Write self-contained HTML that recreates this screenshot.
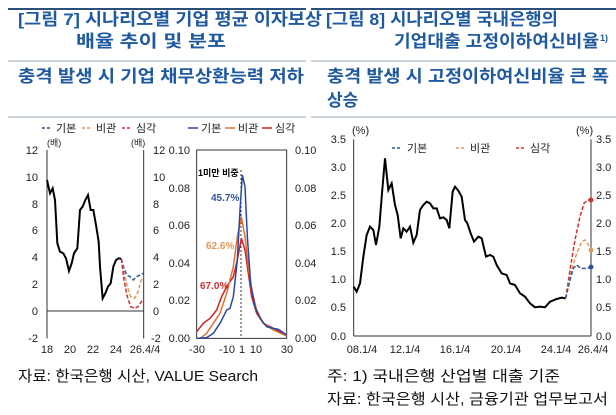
<!DOCTYPE html>
<html><head><meta charset="utf-8"><style>
body{margin:0;background:#fff;}
svg{display:block;font-family:"Liberation Sans","Noto Sans CJK KR",sans-serif;}
.t{fill:#1f5aa0;font-weight:bold;}
.ax{font-size:11px;fill:#222;}
</style></head><body>
<svg width="616" height="415" viewBox="0 0 616 415" xmlns="http://www.w3.org/2000/svg">
<rect width="616" height="415" fill="#fff"/>
<line x1="8" y1="9" x2="306" y2="9" stroke="#2a4f7a" stroke-width="2"/>
<line x1="311" y1="9" x2="616" y2="9" stroke="#2a4f7a" stroke-width="2"/>
<text class="t" x="18" y="25" font-size="17" textLength="304" lengthAdjust="spacingAndGlyphs">[그림 7] 시나리오별 기업 평균 이자보상</text>
<text class="t" x="76" y="47" font-size="17" textLength="150" lengthAdjust="spacingAndGlyphs">배율 추이 및 분포</text>
<text class="t" x="326" y="25" font-size="17" textLength="232" lengthAdjust="spacingAndGlyphs">[그림 8] 시나리오별 국내은행의</text>
<text class="t" x="394" y="47" font-size="17" textLength="205" lengthAdjust="spacingAndGlyphs">기업대출 고정이하여신비율</text>
<text class="t" x="600" y="41" font-size="9">1)</text>
<line x1="8" y1="61" x2="306" y2="61" stroke="#9ab" stroke-width="1"/>
<line x1="311" y1="61" x2="616" y2="61" stroke="#9ab" stroke-width="1"/>
<text class="t" x="18" y="82" font-size="17" textLength="286" lengthAdjust="spacingAndGlyphs">충격 발생 시 기업 채무상환능력 저하</text>
<text class="t" x="327" y="82" font-size="17" textLength="282" lengthAdjust="spacingAndGlyphs">충격 발생 시 고정이하여신비율 큰 폭</text>
<text class="t" x="327" y="106" font-size="17">상승</text>
<line x1="8" y1="117" x2="306" y2="117" stroke="#9ab" stroke-width="1"/>
<line x1="311" y1="117" x2="616" y2="117" stroke="#9ab" stroke-width="1"/>

<g class="ax" font-size="10">
<line x1="42" y1="128" x2="52" y2="128" stroke="#2e5597" stroke-dasharray="3,2" stroke-width="1.5"/><text x="56" y="132">기본</text>
<line x1="82" y1="128" x2="92" y2="128" stroke="#e0995a" stroke-dasharray="3,2" stroke-width="1.5"/><text x="96" y="132">비관</text>
<line x1="122" y1="128" x2="132" y2="128" stroke="#d03030" stroke-dasharray="3,2" stroke-width="1.5"/><text x="136" y="132">심각</text>
<line x1="188" y1="128" x2="198" y2="128" stroke="#2848a0" stroke-width="1.5"/><text x="201" y="132">기본</text>
<line x1="225" y1="128" x2="235" y2="128" stroke="#e07030" stroke-width="1.5"/><text x="238" y="132">비관</text>
<line x1="262" y1="128" x2="272" y2="128" stroke="#d02020" stroke-width="1.5"/><text x="275" y="132">심각</text>
<text x="47" y="146" font-size="9">(배)</text><text x="131" y="146" font-size="9">(배)</text>
</g>
<g class="ax" text-anchor="end">
<text x="38" y="154">12</text><text x="38" y="181">10</text><text x="38" y="208">8</text><text x="38" y="234">6</text><text x="38" y="261">4</text><text x="38" y="288">2</text><text x="38" y="315">0</text><text x="38" y="342">-2</text>
</g>
<g class="ax">
<text x="153" y="154">12</text><text x="153" y="181">10</text><text x="153" y="208">8</text><text x="153" y="234">6</text><text x="153" y="261">4</text><text x="153" y="288">2</text><text x="153" y="315">0</text><text x="151" y="342">-2</text>
</g>
<g class="ax" text-anchor="middle">
<text x="47" y="353">18</text><text x="70" y="353">20</text><text x="93" y="353">22</text><text x="116" y="353">24</text><text x="145" y="353">26.4/4</text>
<text x="197" y="353">-30</text><text x="227" y="353">-10</text><text x="242" y="353">1</text><text x="256" y="353">10</text><text x="287" y="353">30</text>
</g>
<g class="ax" text-anchor="end">
<text x="190" y="154">0.10</text><text x="190" y="192">0.08</text><text x="190" y="229">0.06</text><text x="190" y="267">0.04</text><text x="190" y="304">0.02</text><text x="190" y="342">0.00</text>
</g>
<g class="ax">
<text x="295" y="154">0.10</text><text x="295" y="192">0.08</text><text x="295" y="229">0.06</text><text x="295" y="267">0.04</text><text x="295" y="304">0.02</text><text x="295" y="342">0.00</text>
</g>

<g transform="translate(0,110) scale(0.33333)" fill="none">
<g stroke="#333" stroke-width="1">
<line x1="141" y1="120" x2="141" y2="685" vector-effect="non-scaling-stroke"/>
<line x1="431" y1="120" x2="431" y2="685" vector-effect="non-scaling-stroke"/>
<line x1="141" y1="603" x2="431" y2="603" vector-effect="non-scaling-stroke"/>
<rect x="590" y="120" width="270" height="565" vector-effect="non-scaling-stroke"/>
<line x1="723" y1="180" x2="723" y2="685" stroke-dasharray="2,2" vector-effect="non-scaling-stroke"/>
</g>
<polyline vector-effect="non-scaling-stroke" stroke="#000" stroke-width="2" points="141,210 150,250 158,235 165,270 172,400 180,425 190,430 198,445 207,483 215,460 222,430 232,415 240,300 248,290 256,270 264,255 272,300 280,300 288,345 296,395 300,470 308,565 316,550 324,530 332,520 340,470 348,450 356,445 364,447"/>
<polyline vector-effect="non-scaling-stroke" stroke="#2e5597" stroke-width="1.5" stroke-dasharray="4,2" points="364,447 372,475 380,495 390,500 400,510 410,500 420,495 430,490"/>
<polyline vector-effect="non-scaling-stroke" stroke="#e0995a" stroke-width="1.5" stroke-dasharray="4,2" points="364,447 372,490 382,530 392,560 404,565 414,545 424,510 431,500"/>
<polyline vector-effect="non-scaling-stroke" stroke="#d03030" stroke-width="1.5" stroke-dasharray="4,2" points="364,447 372,510 382,560 392,590 404,595 414,590 424,575 431,565"/>
<polyline vector-effect="non-scaling-stroke" stroke="#d02020" stroke-width="1.5" points="590,665 610,640 630,625 650,600 665,560 680,530 700,500 712,450 724,385 735,420 745,490 755,560 770,610 790,640 820,655 860,675"/>
<polyline vector-effect="non-scaling-stroke" stroke="#e07030" stroke-width="1.5" points="600,685 620,670 640,640 660,610 680,550 700,470 712,380 724,320 735,380 745,470 755,540 770,600 790,640 820,660 860,678"/>
<polyline vector-effect="non-scaling-stroke" stroke="#2848a0" stroke-width="1.5" points="590,685 620,683 640,670 660,640 680,600 690,595 700,560 712,450 720,300 727,195 735,230 742,380 752,520 765,590 780,625 800,650 820,655 835,658 860,675"/>
</g>
<text x="198" y="176" font-size="9" font-weight="bold" fill="#000">1미만 비중</text>
<text x="211" y="201" font-size="10" font-weight="bold" fill="#2e5597">45.7%</text>
<text x="206" y="249" font-size="10" font-weight="bold" fill="#e0995a">62.6%</text>
<text x="200" y="289" font-size="10" font-weight="bold" fill="#d03030">67.0%</text>

<g class="ax" font-size="9"><text x="352" y="134">(%)</text><text x="576" y="134">(%)</text></g>
<g class="ax" font-size="10">
<line x1="392" y1="148" x2="402" y2="148" stroke="#2e5597" stroke-dasharray="3,2" stroke-width="1.5"/><text x="407" y="152">기본</text>
<line x1="456" y1="148" x2="466" y2="148" stroke="#e0995a" stroke-dasharray="3,2" stroke-width="1.5"/><text x="470" y="152">비관</text>
<line x1="516" y1="148" x2="526" y2="148" stroke="#d03030" stroke-dasharray="3,2" stroke-width="1.5"/><text x="530" y="152">심각</text>
</g>
<g class="ax" text-anchor="end">
<text x="346" y="143">3.5</text><text x="346" y="171">3.0</text><text x="346" y="199">2.5</text><text x="346" y="227">2.0</text><text x="346" y="255">1.5</text><text x="346" y="283">1.0</text><text x="346" y="311">0.5</text><text x="346" y="340">0.0</text>
</g>
<g class="ax">
<text x="596" y="143">3.5</text><text x="596" y="171">3.0</text><text x="596" y="199">2.5</text><text x="596" y="227">2.0</text><text x="596" y="255">1.5</text><text x="596" y="283">1.0</text><text x="596" y="311">0.5</text><text x="596" y="340">0.0</text>
</g>
<g class="ax" text-anchor="middle">
<text x="362" y="353">08.1/4</text><text x="405" y="353">12.1/4</text><text x="455" y="353">16.1/4</text><text x="506" y="353">20.1/4</text><text x="556" y="353">24.1/4</text><text x="593" y="353">26.4/4</text>
</g>
<g transform="translate(310,110) scale(0.33333)" fill="none">
<line x1="131" y1="88" x2="131" y2="678" stroke="#333" vector-effect="non-scaling-stroke"/>
<line x1="843" y1="88" x2="843" y2="678" stroke="#333" vector-effect="non-scaling-stroke"/>
<line x1="131" y1="678" x2="843" y2="678" stroke="#333" vector-effect="non-scaling-stroke"/>
<polyline vector-effect="non-scaling-stroke" stroke="#000" stroke-width="2" points="131,530 140,545 150,520 160,440 170,375 180,350 190,360 198,405 208,350 216,250 225,145 235,240 245,220 255,285 263,315 272,385 280,355 290,365 300,350 310,398 320,375 330,300 340,285 350,275 360,280 370,295 380,295 390,325 400,322 410,330 418,355 428,245 435,230 445,242 455,260 465,330 472,340 482,370 492,395 505,380 515,385 528,440 540,435 550,440 560,465 575,490 590,495 600,520 615,525 630,550 645,560 660,580 675,592 690,590 705,592 720,575 740,567 755,563 767,565"/>
<polyline vector-effect="non-scaling-stroke" stroke="#d03030" stroke-width="1.5" stroke-dasharray="4,2" points="767,565 780,480 795,390 810,320 822,280 833,270 843,270"/>
<polyline vector-effect="non-scaling-stroke" stroke="#e0995a" stroke-width="1.5" stroke-dasharray="4,2" points="767,565 785,480 800,430 815,395 825,390 835,405 843,420"/>
<polyline vector-effect="non-scaling-stroke" stroke="#2e5597" stroke-width="1.5" stroke-dasharray="4,2" points="767,565 780,510 790,475 800,465 812,475 830,475 843,472"/>
</g>
<circle cx="591" cy="200" r="2.5" fill="#d03030"/>
<circle cx="591" cy="250" r="2.5" fill="#e0995a"/>
<circle cx="591" cy="267" r="2.5" fill="#2e5597"/>

<g font-size="15" fill="#111">
<text x="18" y="381" textLength="240" lengthAdjust="spacingAndGlyphs">자료: 한국은행 시산, VALUE Search</text>
<text x="327" y="381" textLength="233" lengthAdjust="spacingAndGlyphs">주: 1) 국내은행 산업별 대출 기준</text>
<text x="327" y="404" textLength="281" lengthAdjust="spacingAndGlyphs">자료: 한국은행 시산, 금융기관 업무보고서</text>
</g>
</svg>
</body></html>
